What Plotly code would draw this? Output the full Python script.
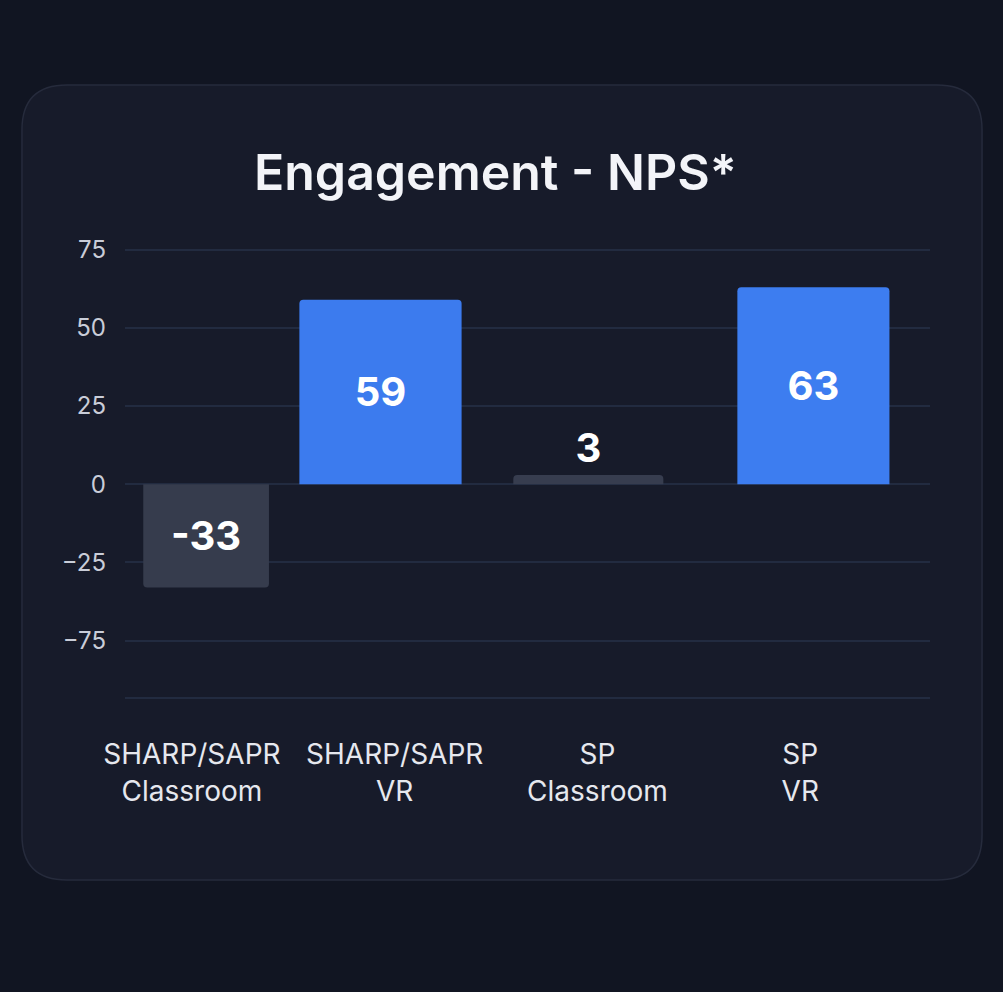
import plotly.graph_objects as go

# data
groups = ["SHARP/SAPR<br>Classroom", "SHARP/SAPR<br>VR", "SP<br>Classroom", "SP<br>VR"]
nps = [-33, 59, 3, 63]
bar_colors = ["#363c4d", "#3c7bee", "#373d4f", "#3d7df0"]
bar_widths = [0.62, 0.8, 0.74, 0.75]
bar_offsets = [-0.24, -0.47, -0.415, -0.31]
text_pos = ["inside", "inside", "outside", "inside"]
y_ticks = [75, 50, 25, 0, -25, -50]
y_tick_text = ["75", "50", "25", "0", "−25", "−75"]

W, H = 1003, 992


def px(x, y):
    return "%.4f,%.4f" % (x / W, (H - y) / H)


# rounded card behind the chart
x0, x1, y0, y1, r = 22, 982, 85, 880, 45
card = ("M " + px(x0 + r, y0) + " L " + px(x1 - r, y0) +
        " Q " + px(x1, y0) + " " + px(x1, y0 + r) +
        " L " + px(x1, y1 - r) +
        " Q " + px(x1, y1) + " " + px(x1 - r, y1) +
        " L " + px(x0 + r, y1) +
        " Q " + px(x0, y1) + " " + px(x0, y1 - r) +
        " L " + px(x0, y0 + r) +
        " Q " + px(x0, y0) + " " + px(x0 + r, y0) + " Z")

fig = go.Figure(go.Bar(
    x=list(range(len(groups))),
    y=nps,
    width=bar_widths,
    offset=bar_offsets,
    marker=dict(color=bar_colors, line_width=0, cornerradius=4),
    text=[str(v) for v in nps],
    textposition=text_pos,
    insidetextanchor="middle",
    textfont=dict(family="Inter", size=40, color="#ffffff", weight=700),
    cliponaxis=False,
))

fig.update_layout(
    width=W, height=H,
    margin=dict(l=0, r=0, t=0, b=0, pad=0),
    paper_bgcolor="#111522",
    plot_bgcolor="rgba(0,0,0,0)",
    showlegend=False,
    font=dict(family="Inter", color="#d0d4de"),
    shapes=[dict(type="path", path=card, xref="paper", yref="paper",
                 fillcolor="#171b2a", line=dict(color="#262b3c", width=1.5),
                 layer="below")],
    annotations=[dict(text="Engagement - NPS*", x=495 / W, y=(H - 172) / H,
                      xref="paper", yref="paper", showarrow=False,
                      xanchor="center", yanchor="middle",
                      font=dict(family="Inter", size=50, color="#f3f4f8", weight=600))],
)

fig.update_xaxes(
    domain=[125 / W, 930 / W],
    range=[-0.33, 3.64],
    tickvals=list(range(len(groups))),
    ticktext=groups,
    tickfont=dict(size=28, color="#e6e8ee"),
    ticklabelstandoff=32,
    automargin=False,
    showgrid=False, zeroline=False,
    showline=True, linecolor="#222b40", linewidth=1.5,
)
fig.update_yaxes(
    domain=[(H - 697) / H, (H - 234) / H],
    range=[-68, 80],
    tickvals=y_ticks,
    ticktext=y_tick_text,
    tickfont=dict(size=24, color="#c9cdd8"),
    ticklabelstandoff=18,
    automargin=False,
    showgrid=True, gridcolor="#222b40", gridwidth=1.5,
    zeroline=False,
)

fig.write_html("out.html", config={"displayModeBar": False},
               post_script="document.body.style.margin='0';document.body.style.overflow='hidden';")
